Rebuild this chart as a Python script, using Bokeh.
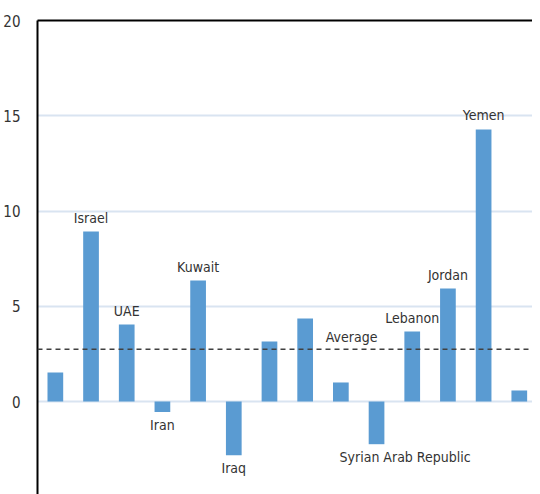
from bokeh.plotting import figure
from bokeh.models import Range1d, LinearAxis, FixedTicker, Span, Label, ColumnDataSource
from bokeh.core.properties import value
from bokeh.embed import file_html
from bokeh.resources import INLINE

# Data
labels = ["", "Israel", "UAE", "Iran", "Kuwait", "Iraq", "", "", "",
          "Syrian Arab Republic", "Lebanon", "Jordan", "Yemen", ""]
values = [1.52, 8.92, 4.04, -0.55, 6.35, -2.82, 3.15, 4.36, 1.0,
          -2.24, 3.67, 5.93, 14.28, 0.58]
average = 2.75
y_ticks = [-5, 0, 5, 10, 15, 20]

FONT = "'Noto Sans Condensed', 'DejaVu Sans Condensed', 'Liberation Sans', sans-serif"
TXT = "#333333"

xs = list(range(len(values)))
p = figure(width=532, height=494, output_backend="svg", toolbar_location=None,
           x_range=Range1d(-0.5, 13.37), y_range=Range1d(-4.88, 20),
           x_axis_location=None, y_axis_location="left",
           min_border_left=30, min_border_right=0, min_border_top=20, min_border_bottom=0)
p.outline_line_color = None
p.background_fill_color = "white"

# y axis
ya = p.yaxis[0]
ya.ticker = FixedTicker(ticks=y_ticks)
ya.axis_line_color = "black"
ya.axis_line_width = 2
ya.major_tick_line_color = None
ya.minor_tick_line_color = None
ya.major_label_text_font = FONT
ya.major_label_text_font_size = "15px"
ya.major_label_text_color = TXT
ya.major_label_standoff = 11

# top border axis
top = LinearAxis(ticker=FixedTicker(ticks=[]), axis_line_color="black", axis_line_width=2,
                 major_tick_line_color=None, minor_tick_line_color=None,
                 major_label_text_font_size="0px", major_label_standoff=0)
p.add_layout(top, "above")

p.xgrid.visible = False
p.ygrid.ticker = FixedTicker(ticks=[0, 5, 10, 15])
p.ygrid.grid_line_color = "#d9e4f1"
p.ygrid.grid_line_width = 2

src = ColumnDataSource(dict(x=xs, top=values))
p.vbar(x="x", top="top", bottom=0, width=0.44, source=src,
       fill_color="#5a9bd2", line_color=None)

p.add_layout(Span(location=average, dimension="width", line_color="#404040",
                  line_width=1.5, line_dash="5 4"))

# bar labels
shift = {"Syrian Arab Republic": 0.8}
lx, ly, loff, lt = [], [], [], []
for i, (lab, v) in enumerate(zip(labels, values)):
    if not lab:
        continue
    lx.append(i + shift.get(lab, 0))
    ly.append(v)
    loff.append(-14 if v > 0 else 13)
    lt.append(lab)
lx.append(8.3); ly.append(average); loff.append(-12); lt.append("Average")
lsrc = ColumnDataSource(dict(x=lx, y=ly, off=loff, t=lt))
p.text(x="x", y="y", text="t", y_offset="off", source=lsrc,
       text_font=value(FONT), text_font_size="14px", text_color=TXT,
       text_align="center", text_baseline="middle")

# partially visible -5 tick label (cut by the lower edge, as in the reference)
p.add_layout(Label(x=-13, y=-5, x_units="screen", y_units="data", text="-5",
                   text_font=FONT, text_font_size="15px", text_color=TXT,
                   text_align="right", text_baseline="middle"))

open("out.html", "w").write(file_html(p, INLINE))
